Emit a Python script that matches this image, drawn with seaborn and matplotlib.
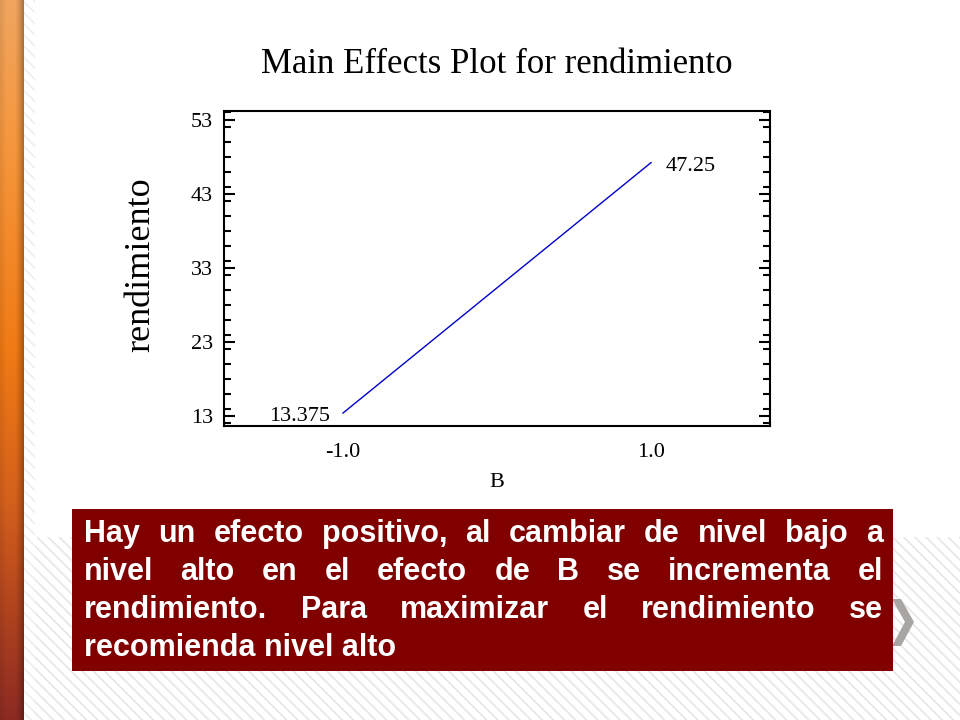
import numpy as np
import pandas as pd
import seaborn as sns
import matplotlib.pyplot as plt
from matplotlib.patches import Rectangle, Polygon
from matplotlib.ticker import MultipleLocator

# data
levels = [-1.0, 1.0]
means = [13.375, 47.25]
xtick_labels = ['-1.0', '1.0']
yticks = [13, 23, 33, 43, 53]
title = 'Main Effects Plot for rendimiento'
factor_name = 'B'
response_name = 'rendimiento'
note_lines = [
    'Hay un efecto positivo, al cambiar de nivel bajo a',
    'nivel alto en el efecto de B se incrementa el',
    'rendimiento. Para maximizar el rendimiento se',
    'recomienda nivel alto',
]

sns.set_theme(style='white')
plt.rcParams['font.family'] = ['Liberation Serif', 'DejaVu Serif']
plt.rcParams['hatch.linewidth'] = 1.2
plt.rcParams['text.color'] = 'black'
plt.rcParams['xtick.color'] = 'black'
plt.rcParams['ytick.color'] = 'black'

W, H = 960, 720
fig = plt.figure(figsize=(9.6, 7.2), dpi=100)
fig.patch.set_facecolor('white')


def box(x0, y0, x1, y1):
    return [x0 / W, 1 - y1 / H, (x1 - x0) / W, (y1 - y0) / H]


# slide background: hatched stripes
fig.add_artist(Rectangle((24 / W, 0), 1, 183 / H, transform=fig.transFigure,
                         facecolor='white', edgecolor='#e6e6e6', hatch='\\\\\\',
                         lw=0, zorder=0))
fig.add_artist(Rectangle((24 / W, 0), 11 / W, 1, transform=fig.transFigure,
                         facecolor='white', edgecolor='#eeeeee', hatch='\\\\\\',
                         lw=0, zorder=0))

# orange side bar
ys = np.arange(H)
stops = [0, 150, 350, 500, 600, 719]
cols = np.array([(240, 165, 95), (246, 150, 60), (240, 122, 20),
                 (212, 96, 28), (180, 70, 30), (140, 42, 35)]) / 255
grad = np.stack([np.interp(ys, stops, cols[:, k]) for k in range(3)], axis=1)
xs = np.arange(24)
shade = 1 - 0.08 * np.clip(1 - xs / 6, 0, None) - 0.35 * np.clip((xs - 14) / 10, 0, None) ** 1.5
bar = grad[:, None, :] * shade[None, :, None]
ax_bar = fig.add_axes(box(0, 0, 24, 720))
ax_bar.imshow(np.clip(bar, 0, 1), aspect='auto', interpolation='bilinear')
ax_bar.axis('off')

# main effects plot
df = pd.DataFrame({factor_name: levels, response_name: means})
ax = fig.add_axes(box(224, 111, 770, 426))
ax.set_facecolor('white')
sns.lineplot(data=df, x=factor_name, y=response_name, ax=ax, color='#0000cc', lw=1)
ax.set_xlim(-1.77, 1.77)
ax.set_ylim(11.65, 54.2)
ax.set_xticks(levels, xtick_labels)
ax.set_yticks(yticks)
ax.yaxis.set_minor_locator(MultipleLocator(2))
ax.tick_params(axis='x', length=0, pad=12, labelsize=16)
ax.tick_params(axis='y', which='both', direction='in', left=True, right=True,
               width=1.5, color='black', labelsize=16, pad=8)
ax.tick_params(axis='y', which='major', length=8)
ax.tick_params(axis='y', which='minor', length=5)
ax.set_xlabel('')
ax.set_ylabel('')
for s in ax.spines.values():
    s.set_color('black')
    s.set_linewidth(1.5)

ax.annotate(f'{means[0]:g}', (levels[0], means[0]), xytext=(-9.4, -5.8),
            textcoords='offset points', ha='right', va='baseline', fontsize=16)
ax.annotate(f'{means[1]:g}', (levels[1], means[1]), xytext=(10, -5.8),
            textcoords='offset points', ha='left', va='baseline', fontsize=16)

fig.text(497 / W, 1 - 73 / H, title, ha='center', va='baseline', fontsize=25)
fig.text(157 / W, 1 - 265 / H, response_name, rotation=90, ha='right',
         va='center', fontsize=26)
fig.text(497 / W, 1 - 487 / H, factor_name, ha='center', va='baseline', fontsize=16)

# chevron behind the note box
fig.add_artist(Polygon([(892 / W, 1 - 599 / H), (901 / W, 1 - 599 / H),
                        (914 / W, 1 - 622 / H), (901 / W, 1 - 646 / H),
                        (892 / W, 1 - 646 / H), (905 / W, 1 - 622 / H)],
                       closed=True, transform=fig.transFigure,
                       facecolor='#a9a5a2', edgecolor='none', zorder=1))

# note box with justified text
fig.add_artist(Rectangle((72 / W, 1 - 671 / H), (893 - 72) / W, (671 - 509) / H,
                         transform=fig.transFigure, facecolor='#800000',
                         edgecolor='none', zorder=2))
kw = dict(color='white', fontsize=22, fontweight='bold', va='baseline', ha='left',
          family=['Liberation Sans', 'DejaVu Sans'], zorder=3)
r = fig.canvas.get_renderer()
x0, x1 = 84, 883
for i, line in enumerate(note_lines):
    yb = 1 - (542 + 38 * i) / H
    words = line.split()
    if i == len(note_lines) - 1:
        fig.text(x0 / W, yb, line, **kw)
        continue
    texts = [fig.text(0, yb, w, **kw) for w in words]
    widths = [t.get_window_extent(r).width for t in texts]
    gap = (x1 - x0 - sum(widths)) / (len(words) - 1)
    x = x0
    for t, w in zip(texts, widths):
        t.set_x(x / W)
        x += w + gap

fig.savefig('out.png', dpi=100)
